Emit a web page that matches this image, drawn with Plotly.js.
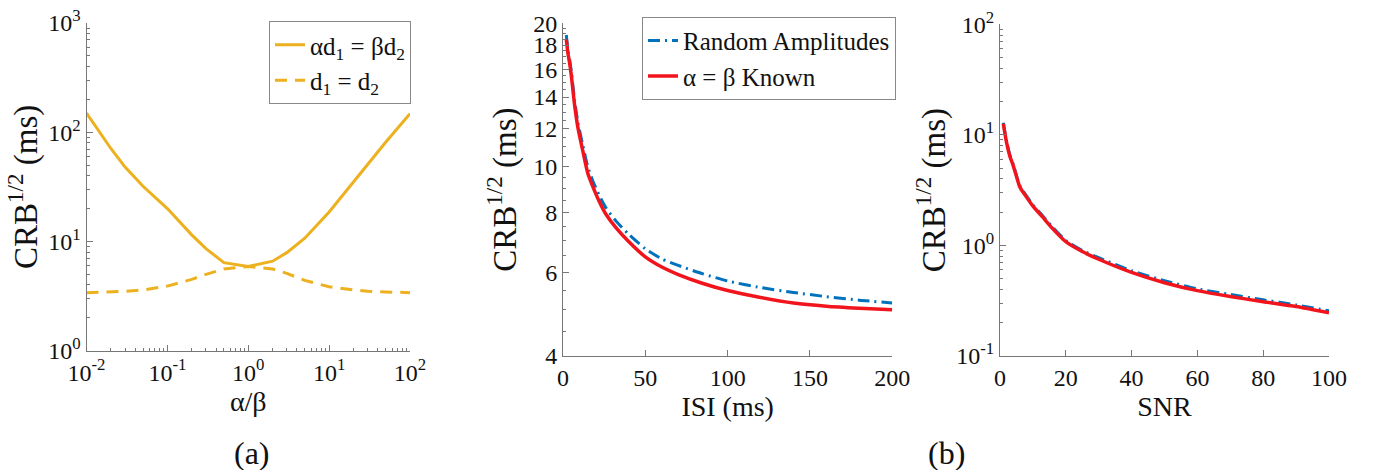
<!DOCTYPE html>
<html>
<head>
<meta charset="utf-8">
<script src="https://cdn.plot.ly/plotly-3.0.1.min.js"></script>
<style>html,body{margin:0;padding:0;background:#fff;}#chart{width:1373px;height:470px;}</style>
</head>
<body>
<div id="chart"></div>
<script>
// ---- Panel (a): CRB^1/2 vs alpha/beta ----
var alphaBeta = [0.01, 0.02, 0.03, 0.05, 0.1, 0.2, 0.3, 0.5, 1, 2, 3, 5, 10, 20, 30, 50, 100];
var crbScaledDelay = [150, 71, 48, 32, 20, 11.5, 8.6, 6.4, 5.9, 6.6, 7.9, 10.7, 18.6, 35, 51, 81, 148];
var crbEqualDelay  = [3.4, 3.45, 3.5, 3.6, 3.9, 4.5, 5.0, 5.6, 5.9, 5.6, 5.1, 4.4, 3.85, 3.6, 3.5, 3.45, 3.4];
var nameA1 = "\u03b1d<sub>1</sub> = \u03b2d<sub>2</sub>";
var nameA2 = "d<sub>1</sub> = d<sub>2</sub>";

// ---- Panel (b) left: CRB^1/2 vs ISI ----
var isi = [2, 3, 4, 5, 7, 9, 12, 15, 18, 22, 26, 32, 40, 50, 60, 70, 85, 100, 120, 140, 160, 180, 200];
var crbIsiRandom = [18.9, 17.6, 16.8, 15.9, 13.8, 12.4, 11.1, 10.0, 9.35, 8.7, 8.2, 7.7, 7.2, 6.72, 6.4, 6.2, 5.95, 5.75, 5.57, 5.44, 5.33, 5.24, 5.17];
var crbIsiKnown  = [18.5, 17.3, 16.5, 15.6, 13.5, 12.1, 10.8, 9.7, 9.1, 8.45, 7.95, 7.45, 6.95, 6.46, 6.15, 5.93, 5.68, 5.49, 5.31, 5.17, 5.09, 5.04, 5.0];
var nameB1 = "Random Amplitudes";
var nameB2 = "\u03b1 = \u03b2 Known";

// ---- Panel (b) right: CRB^1/2 vs SNR ----
var snr = [1, 2, 3, 4, 6, 8, 10, 13, 16, 20, 25, 30, 40, 50, 60, 70, 80, 90, 100];
var crbSnrRandom = [12.9, 8.7, 6.6, 5.45, 3.5, 2.82, 2.33, 1.85, 1.46, 1.11, 0.9, 0.775, 0.59, 0.48, 0.405, 0.36, 0.322, 0.29, 0.256];
var crbSnrKnown  = [12.6, 8.5, 6.4, 5.3, 3.4, 2.75, 2.27, 1.8, 1.42, 1.08, 0.88, 0.75, 0.57, 0.46, 0.39, 0.345, 0.31, 0.28, 0.246];

// ---- tick labels ----
var logTicksA_x = [0.01, 0.1, 1, 10, 100];
var logTextA_x = ["10<sup>-2</sup>", "10<sup>-1</sup>", "10<sup>0</sup>", "10<sup>1</sup>", "10<sup>2</sup>"];
var logTicksA_y = [1, 10, 100, 1000];
var logTextA_y = ["10<sup>0</sup>", "10<sup>1</sup>", "10<sup>2</sup>", "10<sup>3</sup>"];
var isiTicksX = [0, 50, 100, 150, 200];
var isiTicksY = [4, 6, 8, 10, 12, 14, 16, 18, 20];
var snrTicksX = [0, 20, 40, 60, 80, 100];
var snrTicksY = [0.1, 1, 10, 100];
var snrTextY = ["10<sup>-1</sup>", "10<sup>0</sup>", "10<sup>1</sup>", "10<sup>2</sup>"];
var yTitle = "CRB<sup>1/2</sup> (ms)";

var ORANGE = "#EDB120", BLUE = "#0072BD", RED = "#F2141C";
var FONT = "Liberation Serif";

function logMinor(lo, hi) {
  var out = [];
  for (var e = lo; e < hi; e++) {
    for (var m = 2; m <= 9; m++) out.push(m * Math.pow(10, e));
  }
  return out;
}
var isiMinor = [];
for (var v = 4.5; v < 20; v += 0.5) { if (v % 2 !== 0) isiMinor.push(v); }

var H = 470, W = 1373;
function px(x) { return x / W; }
function py(y) { return 1 - y / H; }

var axisBase = {
  showline: true, linecolor: "#777", linewidth: 1,
  ticks: "inside", ticklen: 6, tickwidth: 1, tickcolor: "#777",
  showgrid: false, zeroline: false, mirror: false,
  tickfont: {family: FONT, size: 24, color: "#111"},
  title: {font: {family: FONT, size: 28, color: "#111"}}
};
function ax(extra) {
  var o = JSON.parse(JSON.stringify(axisBase));
  for (var k in extra) {
    if (k === "title") {
      o.title.text = extra.title.text;
      if (extra.title.standoff !== undefined) o.title.standoff = extra.title.standoff;
      if (extra.title.size !== undefined) o.title.font.size = extra.title.size;
    }
    else o[k] = extra[k];
  }
  return o;
}

var DASHDOT = "12px,5px,2px,5px";
var traces = [
  {x: alphaBeta, y: crbScaledDelay, xaxis: "x", yaxis: "y", mode: "lines", name: nameA1,
   line: {color: ORANGE, width: 3}, legend: "legend"},
  {x: alphaBeta, y: crbEqualDelay, xaxis: "x", yaxis: "y", mode: "lines", name: nameA2,
   line: {color: ORANGE, width: 3, dash: "12px,8px"}, legend: "legend"},
  {x: isi, y: crbIsiRandom, xaxis: "x2", yaxis: "y2", mode: "lines", name: nameB1,
   line: {color: BLUE, width: 3, dash: DASHDOT, shape: "spline", smoothing: 0.6}, legend: "legend2"},
  {x: isi, y: crbIsiKnown, xaxis: "x2", yaxis: "y2", mode: "lines", name: nameB2,
   line: {color: RED, width: 3.5, shape: "spline", smoothing: 0.6}, legend: "legend2"},
  {x: snr, y: crbSnrRandom, xaxis: "x3", yaxis: "y3", mode: "lines", name: nameB1,
   line: {color: BLUE, width: 3, dash: DASHDOT, shape: "spline", smoothing: 0.6}, showlegend: false},
  {x: snr, y: crbSnrKnown, xaxis: "x3", yaxis: "y3", mode: "lines", name: nameB2,
   line: {color: RED, width: 3.5, shape: "spline", smoothing: 0.6}, showlegend: false}
];

var minorStyle = {ticks: "inside", ticklen: 3, tickcolor: "#777", tickmode: "array"};
function minor(vals) { var m = JSON.parse(JSON.stringify(minorStyle)); m.tickvals = vals; return m; }

var layout = {
  width: W, height: H,
  margin: {l: 0, r: 0, t: 0, b: 0},
  paper_bgcolor: "#fff", plot_bgcolor: "#fff",
  font: {family: FONT, color: "#111"},
  xaxis: ax({domain: [px(86.5), px(410)], anchor: "y", type: "log", range: [-2, 2],
    tickmode: "array", tickvals: logTicksA_x, ticktext: logTextA_x, minor: minor(logMinor(-2, 2)),
    title: {text: "\u03b1/\u03b2", standoff: 6}}),
  yaxis: ax({domain: [py(350.7), py(23)], anchor: "x", type: "log", range: [0, 3],
    tickmode: "array", tickvals: logTicksA_y, ticktext: logTextA_y, minor: minor(logMinor(0, 3)),
    title: {text: yTitle, standoff: 0, size: 33}}),
  xaxis2: ax({domain: [px(563), px(892.3)], anchor: "y2", range: [0, 200],
    tickmode: "array", tickvals: isiTicksX,
    title: {text: "ISI (ms)", standoff: 4}}),
  yaxis2: ax({domain: [py(356), py(23.3)], anchor: "x2", type: "log", range: [Math.log10(4), Math.log10(20)],
    tickmode: "array", tickvals: isiTicksY, minor: minor(isiMinor),
    title: {text: yTitle, standoff: 6, size: 33}}),
  xaxis3: ax({domain: [px(1000), px(1329)], anchor: "y3", range: [0, 100],
    tickmode: "array", tickvals: snrTicksX,
    title: {text: "SNR", standoff: 2}}),
  yaxis3: ax({domain: [py(356), py(24.3)], anchor: "x3", type: "log", range: [-1, 2],
    tickmode: "array", tickvals: snrTicksY, ticktext: snrTextY, minor: minor(logMinor(-1, 2)),
    title: {text: yTitle, standoff: 0, size: 33}}),
  legend: {x: px(411), xanchor: "right", y: py(21), yanchor: "top",
    bordercolor: "#888", borderwidth: 1, bgcolor: "#fff",
    font: {family: FONT, size: 25, color: "#111"}, tracegroupgap: 0},
  legend2: {x: px(896), xanchor: "right", y: py(16.7), yanchor: "top",
    bordercolor: "#888", borderwidth: 1, bgcolor: "#fff",
    font: {family: FONT, size: 25, color: "#111"}, tracegroupgap: 0},
  annotations: [
    {text: "(a)", xref: "paper", yref: "paper", x: px(252), y: py(453), xanchor: "center", yanchor: "middle",
     showarrow: false, font: {family: FONT, size: 32, color: "#111"}},
    {text: "(b)", xref: "paper", yref: "paper", x: px(946), y: py(453), xanchor: "center", yanchor: "middle",
     showarrow: false, font: {family: FONT, size: 32, color: "#111"}}
  ]
};

Plotly.newPlot("chart", traces, layout, {staticPlot: true, displayModeBar: false});
</script>
</body>
</html>
